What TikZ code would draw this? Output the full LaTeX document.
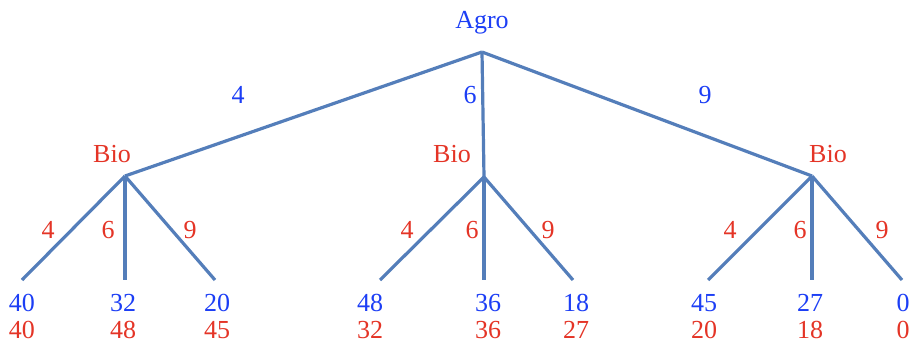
\documentclass[tikz,border=0pt]{standalone}
\usepackage{fontspec}
\setmainfont{Liberation Serif}
\definecolor{agroblue}{RGB}{28,62,245}
\definecolor{biored}{RGB}{228,52,38}
\definecolor{branchblue}{RGB}{84,126,186}

\begin{document}
\begin{tikzpicture}[x=1pt, y=-1pt, font=\fontsize{26}{30}\selectfont]
  \useasboundingbox (0,0) rectangle (910,343);
  \tikzset{agro/.style={text=agroblue, inner sep=0pt, anchor=base},
    bio/.style={text=biored, inner sep=0pt, anchor=base},
    branch/.style={draw=branchblue, line width=3.2pt}}
  % ---- first mover and its three choices ----
  \coordinate (root) at (482,52);
  \node[agro] (agro) at (482,28) {Agro};
  \foreach \b/\x/\y/\bx/\lx/\t in {1/125/176/112/238/4, 2/484/177/452/470/6, 3/812/176/828/705/9} {
    \coordinate (b\b) at (\x,\y);
    \draw[branch] (root) -- (b\b);
    \node[agro] (a\b) at (\lx,103) {\t};
    \node[bio] (bio\b) at (\bx,162) {Bio};
  }
  % ---- second mover and the pay-offs (Agro above, Bio below) ----
  \foreach \b/\k/\x/\lx/\t/\pa/\pb/\px in {
    1/1/22/48/4/40/40/22, 1/2/125/108/6/32/48/123, 1/3/215/190/9/20/45/217,
    2/1/380/407/4/48/32/370, 2/2/484/472/6/36/36/488, 2/3/573/548/9/18/27/576,
    3/1/708/730/4/45/20/704, 3/2/812/800/6/27/18/810, 3/3/902/882/9/0/0/903} {
    \coordinate (l\b\k) at (\x,280);
    \draw[branch] (b\b) -- (l\b\k);
    \node[bio] (m\b\k) at (\lx,238) {\t};
    \node[agro] (pa\b\k) at (\px,311) {\pa};
    \node[bio] (pb\b\k) at (\px,338) {\pb};
  }
\end{tikzpicture}
\end{document}
